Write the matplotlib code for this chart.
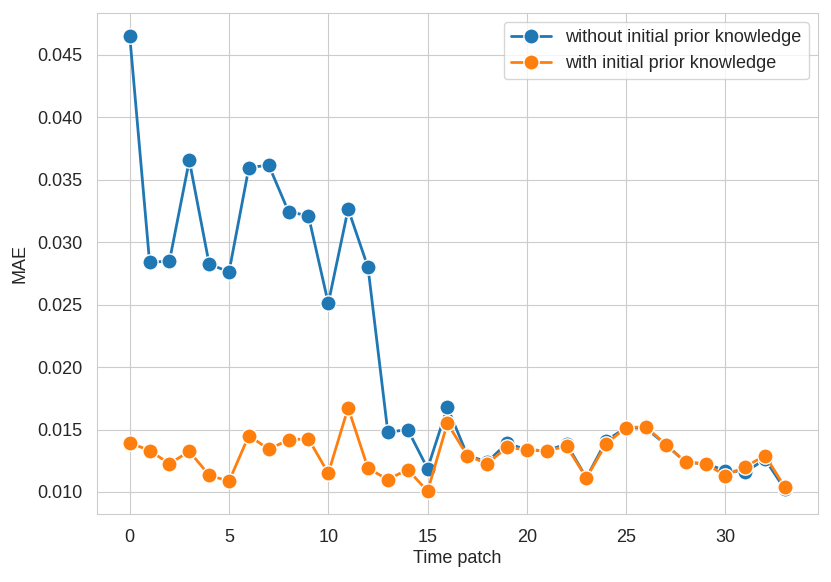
import numpy as np
import matplotlib.pyplot as plt
import seaborn as sns

sns.set_style("whitegrid")
plt.rcParams['font.family'] = ['Liberation Sans', 'DejaVu Sans']

# MAE per time patch
patches = np.arange(34)
mae_without = [0.04654, 0.02839, 0.02849, 0.03655, 0.02826, 0.02762, 0.03598, 0.03617,
               0.03244, 0.03212, 0.02511, 0.03266, 0.02799, 0.01478, 0.01500, 0.01188,
               0.01678, 0.01295, 0.01240, 0.01390, 0.01338, 0.01330, 0.01385, 0.01114,
               0.01412, 0.01516, 0.01510, 0.01380, 0.01238, 0.01226, 0.01172, 0.01160,
               0.01262, 0.01020]
mae_with = [0.01394, 0.01332, 0.01226, 0.01326, 0.01134, 0.01086, 0.01452, 0.01342,
            0.01418, 0.01426, 0.01150, 0.01674, 0.01190, 0.01100, 0.01180, 0.01006,
            0.01550, 0.01292, 0.01226, 0.01358, 0.01338, 0.01330, 0.01366, 0.01114,
            0.01388, 0.01516, 0.01522, 0.01380, 0.01238, 0.01226, 0.01132, 0.01202,
            0.01292, 0.01038]

fig = plt.figure(figsize=(8.31, 5.82), dpi=100)
ax = fig.add_axes([0.1167, 0.1168, 0.8673, 0.861])

ax.plot(patches, mae_without, '-o', color='#1f77b4', lw=2, ms=11,
        mec='white', mew=1, label='without initial prior knowledge')
ax.plot(patches, mae_with, '-o', color='#ff7f0e', lw=2, ms=11,
        mec='white', mew=1, label='with initial prior knowledge')

ax.set_xlabel('Time patch', fontsize=13, labelpad=3, color='#262626')
ax.set_ylabel('MAE', fontsize=13, labelpad=6, color='#262626')
ax.tick_params(labelsize=13, labelcolor='#262626', pad=7)
ax.set_yticks([0.010, 0.015, 0.020, 0.025, 0.030, 0.035, 0.040, 0.045])
leg = ax.legend(loc='upper right', fontsize=13, handlelength=2.2)
for t in leg.get_texts():
    t.set_color('#262626')

fig.savefig('out.png', dpi=100)
